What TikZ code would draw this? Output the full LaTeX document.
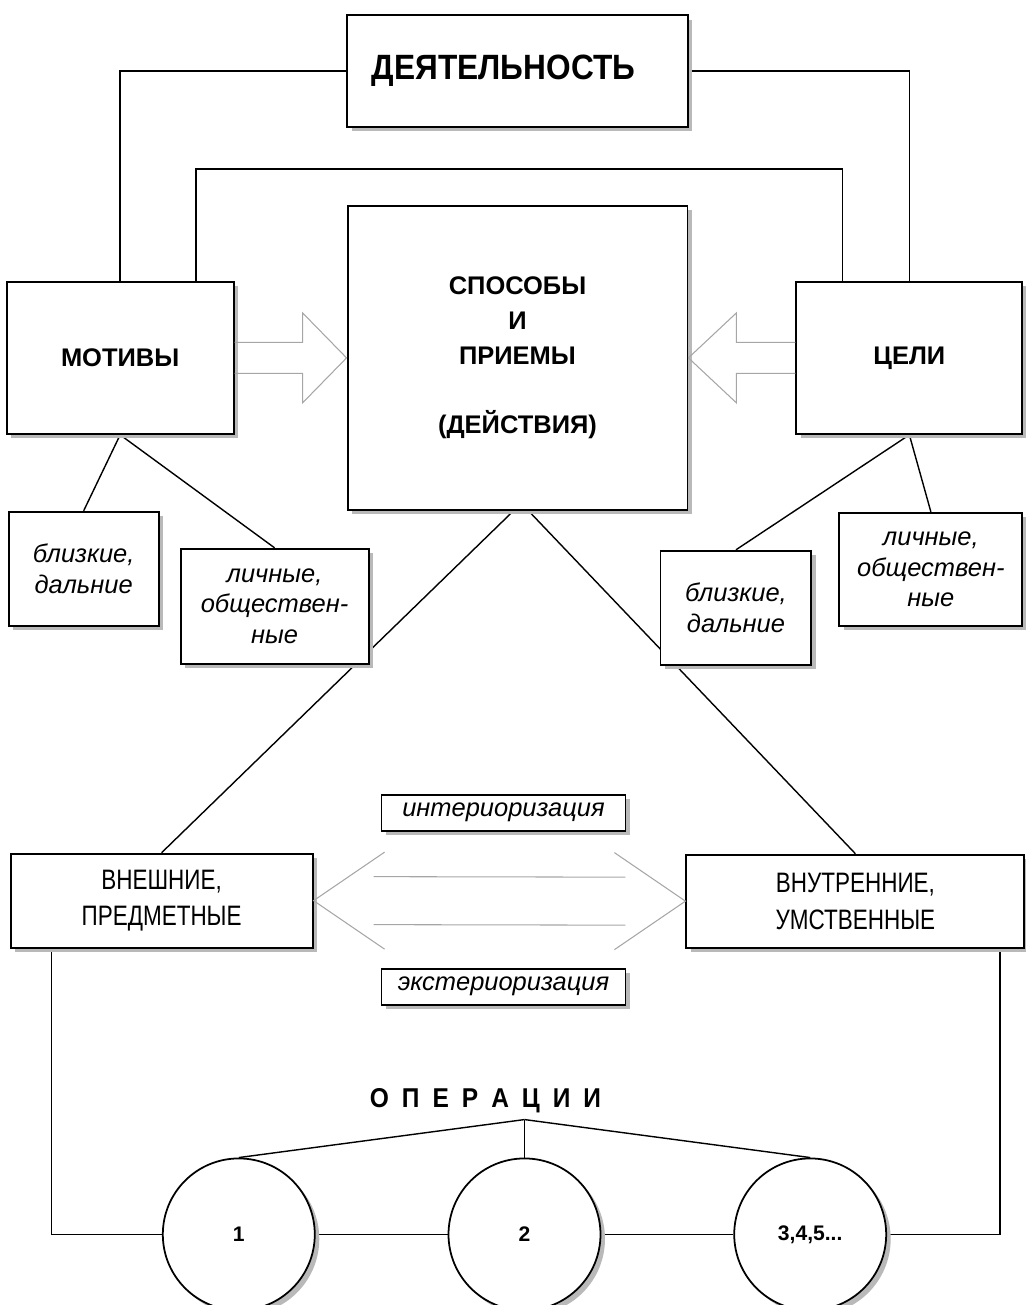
\documentclass[tikz,border=0pt]{standalone}
\usepackage{fontspec}
\setmainfont{Liberation Sans}
\newfontfamily\narrowfont[FakeStretch=0.8]{Liberation Sans}
\newfontfamily\titlefont[FakeStretch=0.9]{Liberation Sans}
\usetikzlibrary{positioning, shadows, backgrounds}

\begin{document}
\begin{tikzpicture}[
    x=0.02cm, y=-0.02cm,
    shade/.style={drop shadow={shadow xshift=0.9mm, shadow yshift=-0.9mm,
                               fill=gray!55, opacity=1}},
    box/.style={rectangle, draw, line width=1.1pt, fill=white, inner sep=2pt,
                align=center, shade},
    head/.style={box, font=\bfseries\fontsize{14.5}{19.8}\selectfont},
    kind/.style={box, font=\itshape\fontsize{14.5}{17.5}\selectfont},
    form/.style={box, font=\narrowfont\fontsize{16}{21}\selectfont},
    turn/.style={box, font=\itshape\fontsize{14.5}{17}\selectfont,
                 minimum width=48.8mm, minimum height=7.2mm, inner sep=0pt},
    op/.style={circle, draw, line width=1pt, fill=white, minimum size=30.4mm,
               inner sep=0pt, font=\bfseries\fontsize{12}{14}\selectfont, shade},
    link/.style={line width=0.8pt},
    hollow/.style={draw=gray!70, line width=0.6pt, line join=miter}
  ]
  \useasboundingbox (0,0) rectangle (1026,1305);

  % upper row
  \node[head, minimum width=68.2mm, minimum height=22.4mm,
        font=\titlefont\bfseries\fontsize{20}{24}\selectfont] (act) at (517.5,71)
       {ДЕЯТЕЛЬНОСТЬ\hspace*{5.6mm}};
  \node[head, below=15.4mm of act, minimum width=68mm, minimum height=60.8mm] (ways)
       {СПОСОБЫ\\И\\ПРИЕМЫ\\[19.8pt](ДЕЙСТВИЯ)};
  \node[head, left=22.4mm of ways, minimum width=45.4mm, minimum height=30.4mm] (motives) {МОТИВЫ};
  \node[head, right=21.4mm of ways, minimum width=45.2mm, minimum height=30.4mm] (goals) {ЦЕЛИ};

  % kinds of motives and goals
  \node[kind, below right=15.2mm and 0.4mm of motives.south west, anchor=north west,
        minimum width=30mm, minimum height=22.8mm] (mnear) {близкие,\\дальние};
  \node[kind, below right=7.4mm and 4mm of mnear.north east, anchor=north west,
        minimum width=37.6mm, minimum height=23mm] (msoc) {личные,\\обществен-\\ные};
  \node[kind, below left=15.4mm and 0mm of goals.south east, anchor=north east,
        minimum width=36.6mm, minimum height=22.6mm] (gsoc) {личные,\\обществен-\\ные};
  \node[kind, below left=7.6mm and 5.2mm of gsoc.north west, anchor=north east,
        minimum width=30.2mm, minimum height=22.8mm] (gnear) {близкие,\\дальние};

  % forms of action
  \node[form, below right=45.2mm and 0.4mm of mnear.south west, anchor=north west,
        minimum width=60.4mm, minimum height=18.8mm] (outer) {ВНЕШНИЕ,\\ПРЕДМЕТНЫЕ};
  \node[form, below left=45.4mm and -0.4mm of gsoc.south east, anchor=north east,
        minimum width=67.6mm, minimum height=18.6mm] (inner) {ВНУТРЕННИЕ,\\УМСТВЕННЫЕ};
  \node[turn, below=56.6mm of ways.south, xshift=-2.8mm] (intr) {интериоризация};
  \node[turn, below=27.2mm of intr] (extr) {экстериоризация};

  % operations
  \node[op, below=30.4mm of extr.south, xshift=4.2mm] (c2) {2};
  \node[op, left=26.4mm of c2] (c1) {1};
  \node[op, right=26.4mm of c2] (c3) {3,4,5...};
  \coordinate[above=7.6mm of c2.north] (hub);
  \node[inner sep=0pt, above=1.2mm of hub, xshift=-7.8mm,
        font=\titlefont\bfseries\fontsize{15.5}{18}\selectfont] (ops)
       {О\hspace{7.4pt}П\hspace{7.4pt}Е\hspace{7.4pt}Р\hspace{7.4pt}А\hspace{7.4pt}Ц\hspace{7.4pt}И\hspace{7.4pt}И};

  % connectors behind the boxes
  \begin{pgfonlayer}{background}
    \draw[link] (act.west) -| (motives.north);
    \draw[link] (act.east) -| (goals.north);
    \coordinate[above=7.2mm of ways.north] (bar);
    \draw[link] ([xshift=15.2mm]motives.north) |- (bar) -| ([xshift=-13.4mm]goals.north);
    \draw[link] (motives.south) -- (mnear.north);
    \draw[link] (motives.south) -- (msoc.north);
    \draw[link] (goals.south) -- (gnear.north);
    \draw[link] (goals.south) -- (gsoc.north);
    \draw[link] ([xshift=-0.8mm]ways.south) -- (outer.north);
    \draw[link] ([xshift=2.2mm]ways.south) -- (inner.north);
    \draw[link] (c1.west) -| ([xshift=-22mm]outer.south);
    \draw[link] (c3.east) -| ([xshift=28.9mm]inner.south);
    \draw[link] (c1) -- (c2);
    \draw[link] (c2) -- (c3);
    \draw[link] (hub) -- (c1.north);
    \draw[link] (hub) -- (c2.north);
    \draw[link] (hub) -- (c3.north);
  \end{pgfonlayer}

  % hollow arrows
  \draw[hollow] ([yshift=3.1mm]motives.east) -- ++(13.6mm,0) -- ++(0,5.9mm)
        -- ++(8.8mm,-9mm) -- ++(-8.8mm,-9mm) -- ++(0,5.9mm) -- ++(-13.6mm,0);
  \draw[hollow] ([yshift=3.1mm]goals.west) -- ++(-11.8mm,0) -- ++(0,5.9mm)
        -- ++(-9.6mm,-9mm) -- ++(9.6mm,-9mm) -- ++(0,5.9mm) -- ++(11.8mm,0);

  % double arrow
  \draw[hollow] ([xshift=14.2mm, yshift=9.7mm]outer.east) -- (outer.east) -- ++(14.2mm,-9.7mm);
  \draw[hollow] ([xshift=-14.2mm, yshift=9.7mm]inner.west) -- (inner.west) -- ++(-14.2mm,-9.7mm);
  \draw[hollow] ([xshift=12mm, yshift=4.8mm]outer.east) -- ([xshift=-12mm, yshift=4.8mm]inner.west);
  \draw[hollow] ([xshift=12mm, yshift=-4.8mm]outer.east) -- ([xshift=-12mm, yshift=-4.8mm]inner.west);
\end{tikzpicture}
\end{document}
